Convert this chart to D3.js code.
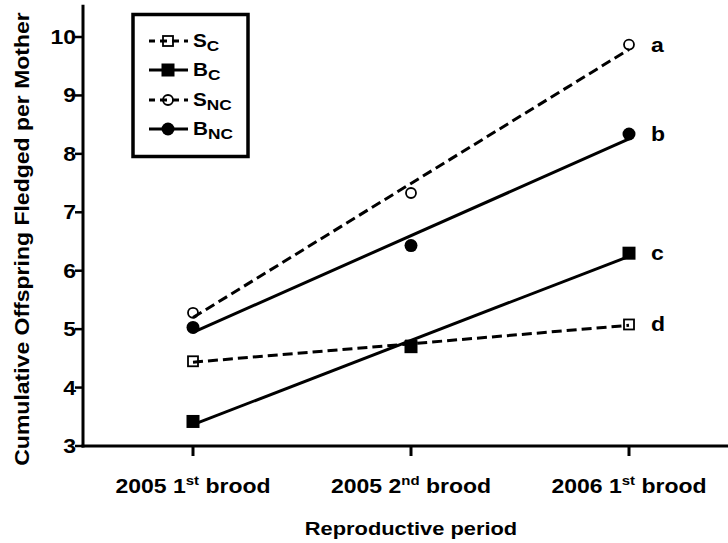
<!DOCTYPE html>
<html>
<head>
<meta charset="utf-8"/>
<title>Cumulative offspring</title>
<script src="https://d3js.org/d3.v7.min.js"></script>
<style>
    body{margin:0;background:#fff;}
    svg text{font-family:"Liberation Sans", Arial, sans-serif;font-weight:bold;fill:#000;}
</style>
</head>
<body>
<svg id="chart" width="728" height="543"></svg>
<script>
// data
var periods = ["2005 1st brood", "2005 2nd brood", "2006 1st brood"];
var periodYear = ["2005 1", "2005 2", "2006 1"];
var periodSup = ["st", "nd", "st"];
var sC  = [4.45, 4.72, 5.08];
var bC  = [3.42, 4.70, 6.30];
var sNC = [5.28, 7.33, 9.87];
var bNC = [5.03, 6.43, 8.34];
var yTicks = [3, 4, 5, 6, 7, 8, 9, 10];
var groupLetters = ["d", "c", "a", "b"];

var series = [
    {name: "S", sub: "C",  vals: sC,  dashed: true,  shape: "square", filled: false},
    {name: "B", sub: "C",  vals: bC,  dashed: false, shape: "square", filled: true},
    {name: "S", sub: "NC", vals: sNC, dashed: true,  shape: "circle", filled: false},
    {name: "B", sub: "NC", vals: bNC, dashed: false, shape: "circle", filled: true}
];

var svg = d3.select("#chart");
var x = d3.scalePoint().domain(periods).range([193, 629]);
var y = d3.scaleLinear().domain([3, 10]).range([446, 37]);
var stretch = 1.15; // the original lettering is set wide

// least squares fit over the period index
function fit(vals){
    var n = vals.length, mx = (n - 1) / 2, my = d3.mean(vals);
    var sxy = 0, sxx = 0;
    for (var i = 0; i < n; i++){
        sxy += (i - mx) * (vals[i] - my);
        sxx += (i - mx) * (i - mx);
    }
    var b = sxy / sxx;
    return [my - b * mx, my + b * (n - 1 - mx)];
}

function wideText(parent, transform, size, anchor){
    return parent.append("g").attr("transform", transform + " scale(" + stretch + ",1)")
        .append("text").attr("text-anchor", anchor).style("font-size", size + "px");
}

// axes
svg.append("line").attr("x1", 83).attr("x2", 83).attr("y1", y(10.55)).attr("y2", y(3) + 1.5)
    .attr("stroke", "#000").attr("stroke-width", 3);
svg.append("line").attr("x1", 81.5).attr("x2", 728).attr("y1", y(3)).attr("y2", y(3))
    .attr("stroke", "#000").attr("stroke-width", 3);

yTicks.forEach(function(d){
    svg.append("line").attr("x1", 75).attr("x2", 83).attr("y1", y(d)).attr("y2", y(d))
        .attr("stroke", "#000").attr("stroke-width", 2.5);
    wideText(svg, "translate(76," + (y(d) + 7) + ")", 20, "end").text(d);
});

periods.forEach(function(d, i){
    svg.append("line").attr("x1", x(d)).attr("x2", x(d)).attr("y1", y(3)).attr("y2", y(3) + 10)
        .attr("stroke", "#000").attr("stroke-width", 3);
    var t = wideText(svg, "translate(" + x(d) + ",493)", 20, "middle");
    t.append("tspan").text(periodYear[i]);
    t.append("tspan").attr("dy", -8).style("font-size", "13px").text(periodSup[i]);
    t.append("tspan").attr("dy", 8).text(" brood");
});

wideText(svg, "translate(411,535)", 19, "middle").text("Reproductive period");
wideText(svg, "translate(29,239) rotate(-90)", 20, "middle").text("Cumulative Offspring Fledged per Mother");

function marker(g, shape, filled, cx, cy){
    if (shape == "square"){
        var s = filled ? 13 : 10;
        g.append("rect").attr("x", cx - s / 2).attr("y", cy - s / 2).attr("width", s).attr("height", s)
            .attr("fill", filled ? "#000" : "none").attr("stroke", "#000").attr("stroke-width", filled ? 0 : 1.8);
    } else {
        g.append("circle").attr("cx", cx).attr("cy", cy).attr("r", filled ? 6.5 : 5)
            .attr("fill", filled ? "#000" : "none").attr("stroke", "#000").attr("stroke-width", filled ? 0 : 1.8);
    }
}

// fitted lines, then points
series.forEach(function(s){
    var f = fit(s.vals);
    svg.append("line").attr("x1", x(periods[0])).attr("x2", x(periods[2]))
        .attr("y1", y(f[0])).attr("y2", y(f[1]))
        .attr("stroke", "#000").attr("stroke-width", 3)
        .attr("stroke-dasharray", s.dashed ? "10,5" : null);
});
series.forEach(function(s, k){
    var g = svg.append("g");
    s.vals.forEach(function(v, i){ marker(g, s.shape, s.filled, x(periods[i]), y(v)); });
    wideText(svg, "translate(651," + (y(s.vals[2]) + 7) + ")", 20, "start").text(groupLetters[k]);
});

// legend
svg.append("rect").attr("x", 133).attr("y", 14.5).attr("width", 115).attr("height", 142)
    .attr("fill", "#fff").attr("stroke", "#000").attr("stroke-width", 3.5);
var ly = [41, 70, 100, 129];
series.forEach(function(s, i){
    var g = svg.append("g");
    g.append("line").attr("x1", 149).attr("x2", 188).attr("y1", ly[i]).attr("y2", ly[i])
        .attr("stroke", "#000").attr("stroke-width", 3).attr("stroke-dasharray", s.dashed ? "7,5" : null)
        .attr("stroke-dashoffset", s.dashed ? 1 : null);
    marker(g, s.shape, s.filled, 168, ly[i]);
    var t = wideText(g, "translate(193," + (ly[i] + 6) + ")", 18, "start");
    t.append("tspan").text(s.name);
    t.append("tspan").attr("dy", 4).style("font-size", "15px").text(s.sub);
});
</script>
</body>
</html>
